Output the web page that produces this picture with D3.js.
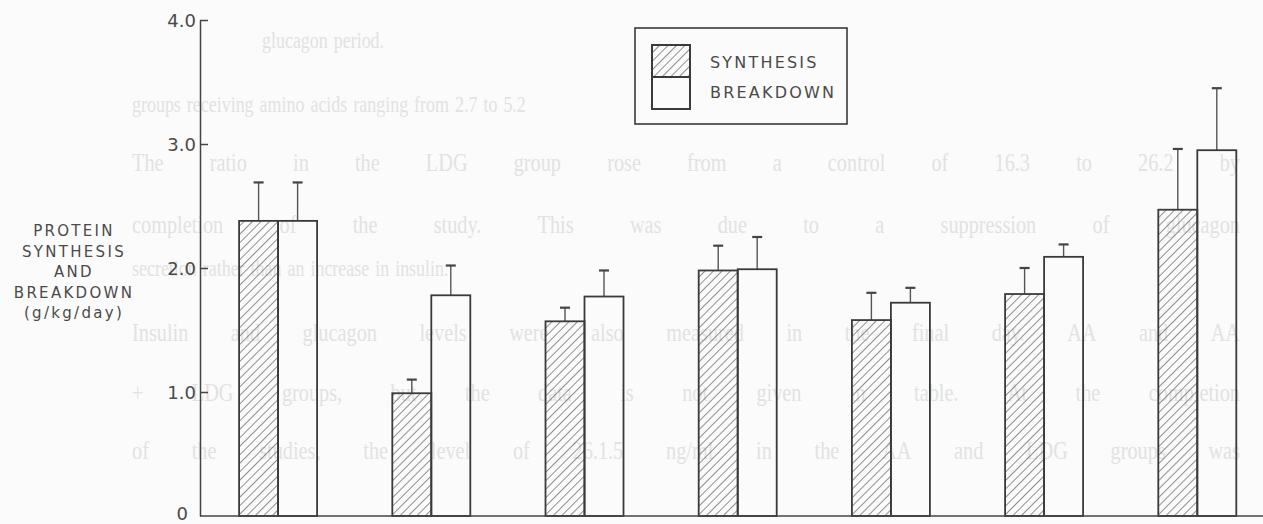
<!DOCTYPE html>
<html>
<head>
<meta charset="utf-8">
<script src="https://cdn.jsdelivr.net/npm/d3@7"></script>
<style>
  body { margin: 0; background: #fbfbfb; }
  svg { display: block; }
  .lbl { font-family: "DejaVu Sans", sans-serif; fill: #4a4a4a; }
  .ghost { font-family: "Liberation Serif", "DejaVu Serif", serif; fill: #e2e2e2; }
</style>
</head>
<body>
<div id="chart"></div>
<script>
// chart data
var groups = ["G1", "G2", "G3", "G4", "G5", "G6", "G7"];
var series = ["SYNTHESIS", "BREAKDOWN"];
var synthesis = [2.38, 0.99, 1.57, 1.98, 1.58, 1.79, 2.47];
var synthesisErr = [0.31, 0.11, 0.11, 0.20, 0.22, 0.21, 0.49];
var breakdown = [2.38, 1.78, 1.77, 1.99, 1.72, 2.09, 2.95];
var breakdownErr = [0.31, 0.24, 0.21, 0.26, 0.12, 0.10, 0.50];
var yTicks = [0, 1, 2, 3, 4];
var yTickLabels = ["0", "1.0", "2.0", "3.0", "4.0"];
var yTitle = ["PROTEIN", "SYNTHESIS", "AND", "BREAKDOWN", "(g/kg/day)"];

// faint text from the other side of the scanned page
var ghostLines = [
  "glucagon period.",
  "groups receiving amino acids ranging from 2.7 to 5.2",
  "The ratio in the LDG group rose from a control of 16.3 to 26.2 by",
  "completion of the study. This was due to a suppression of glucagon",
  "secretion rather than an increase in insulin.",
  "Insulin and glucagon levels were also measured in the final day. AA and AA",
  "+ LDG groups, but the data is not given in table. At the completion",
  "of the studies, the level of 26.1.5 ng/ml in the AA and LDG groups was"
];
var ghostX = [262, 132, 132, 132, 132, 132, 132, 132];
var ghostY = [48, 112, 171, 233, 276, 341, 401, 459];
var ghostJustify = [false, false, true, true, false, true, true, true];

var svgWidth = 1263;
var svgHeight = 524;

var svg = d3.select("#chart")
  .append("svg")
  .attr("width", svgWidth)
  .attr("height", svgHeight);

// hatch for synthesis bars
var defs = svg.append("defs");
var pat = defs.append("pattern")
  .attr("id", "hatch")
  .attr("patternUnits", "userSpaceOnUse")
  .attr("width", 6)
  .attr("height", 6)
  .attr("patternTransform", "rotate(45)");
pat.append("line")
  .attr("x1", 0).attr("y1", 0).attr("x2", 0).attr("y2", 6)
  .attr("stroke", "#555").attr("stroke-width", 1.3);

// background bleed-through text, condensed serif, justified word by word
ghostLines.forEach(function(line, i) {
  var words = line.split(" ");
  var g = svg.append("g");
  var widths = [];
  words.forEach(function(w) {
    var t = g.append("text")
      .attr("class", "ghost")
      .attr("font-size", ghostJustify[i] ? 26 : 23)
      .attr("y", ghostY[i])
      .text(w);
    var wd = t.node().getComputedTextLength() * 0.78;
    t.attr("textLength", wd).attr("lengthAdjust", "spacingAndGlyphs");
    widths.push(wd);
  });
  var total = d3.sum(widths);
  var gap = ghostJustify[i] && words.length > 1 ? (1108 - total) / (words.length - 1) : 6;
  var x = ghostX[i];
  g.selectAll("text").each(function(d, j) {
    d3.select(this).attr("x", x);
    x += widths[j] + gap;
  });
});

// scales
var yScale = d3.scaleLinear().domain([0, 4]).range([516, 20]);
var xScale = d3.scaleBand().domain(groups).range([201.5, 201.5 + 7 * 153.2]).padding(0);
var xInner = d3.scaleBand().domain(series).range([-39, 39]).padding(0);

var rows = groups.map(function(g, i) {
  return [
    { g: g, s: "SYNTHESIS", v: synthesis[i], e: synthesisErr[i] },
    { g: g, s: "BREAKDOWN", v: breakdown[i], e: breakdownErr[i] }
  ];
});

var gGroups = svg.selectAll("g.grp")
  .data(rows)
  .enter()
  .append("g")
  .attr("class", "grp")
  .attr("transform", function(d) {
    return "translate(" + (xScale(d[0].g) + xScale.bandwidth() / 2) + ",0)";
  });

// error whiskers (upper only)
gGroups.selectAll("line.err")
  .data(function(d) { return d; })
  .enter()
  .append("line")
  .attr("x1", function(d) { return xInner(d.s) + xInner.bandwidth() / 2; })
  .attr("x2", function(d) { return xInner(d.s) + xInner.bandwidth() / 2; })
  .attr("y1", function(d) { return yScale(d.v); })
  .attr("y2", function(d) { return yScale(d.v + d.e); })
  .attr("stroke", "#555")
  .attr("stroke-width", 1.4);

gGroups.selectAll("line.cap")
  .data(function(d) { return d; })
  .enter()
  .append("line")
  .attr("x1", function(d) { return xInner(d.s) + xInner.bandwidth() / 2 - 5; })
  .attr("x2", function(d) { return xInner(d.s) + xInner.bandwidth() / 2 + 5; })
  .attr("y1", function(d) { return yScale(d.v + d.e); })
  .attr("y2", function(d) { return yScale(d.v + d.e); })
  .attr("stroke", "#444")
  .attr("stroke-width", 2.2);

gGroups.selectAll("rect")
  .data(function(d) { return d; })
  .enter()
  .append("rect")
  .attr("x", function(d) { return xInner(d.s); })
  .attr("y", function(d) { return yScale(d.v); })
  .attr("width", xInner.bandwidth())
  .attr("height", function(d) { return yScale(0) - yScale(d.v); })
  .attr("fill", function(d) { return d.s === "SYNTHESIS" ? "url(#hatch)" : "none"; })
  .attr("stroke", "#3a3a3a")
  .attr("stroke-width", 1.8);

// y axis
var yAxis = d3.axisLeft(yScale)
  .tickValues(yTicks)
  .tickFormat(function(d, i) { return yTickLabels[i]; })
  .tickSizeInner(-8)
  .tickSizeOuter(0)
  .tickPadding(16);

var gy = svg.append("g")
  .attr("transform", "translate(200,0)")
  .call(yAxis);
gy.select(".domain").attr("stroke", "#444").attr("stroke-width", 1.5);
gy.selectAll(".tick line").attr("stroke", "#444").attr("stroke-width", 1.5)
  .filter(function(d) { return d === 0; }).remove();
gy.selectAll(".tick text")
  .attr("class", "lbl")
  .attr("font-size", 18)
  .attr("fill", "#4a4a4a")
  .attr("x", function(d) { return d === 0 ? -12 : -4; })
  .attr("dy", function(d) { return d === 0 ? "0.2em" : "0.36em"; });

// x baseline
svg.append("line")
  .attr("x1", 200).attr("x2", svgWidth)
  .attr("y1", yScale(0)).attr("y2", yScale(0))
  .attr("stroke", "#444").attr("stroke-width", 1.6);

// y title
svg.append("text")
  .attr("class", "lbl")
  .attr("text-anchor", "middle")
  .attr("font-size", 15)
  .attr("letter-spacing", 2.3)
  .selectAll("tspan")
  .data(yTitle)
  .enter()
  .append("tspan")
  .attr("x", 74)
  .attr("y", function(d, i) { return 236 + i * 20.5; })
  .text(function(d) { return d; });

// legend
var lg = svg.append("g");
lg.append("rect")
  .attr("x", 635).attr("y", 28).attr("width", 212).attr("height", 96)
  .attr("fill", "none").attr("stroke", "#3a3a3a").attr("stroke-width", 1.6);
lg.append("rect")
  .attr("x", 652).attr("y", 45).attr("width", 38).attr("height", 32)
  .attr("fill", "url(#hatch)").attr("stroke", "#3a3a3a").attr("stroke-width", 2);
lg.append("rect")
  .attr("x", 652).attr("y", 77).attr("width", 38).attr("height", 32)
  .attr("fill", "none").attr("stroke", "#3a3a3a").attr("stroke-width", 2);
lg.selectAll("text")
  .data(series)
  .enter()
  .append("text")
  .attr("class", "lbl")
  .attr("x", 710)
  .attr("y", function(d, i) { return 68 + i * 30; })
  .attr("font-size", 16)
  .attr("letter-spacing", 2.2)
  .text(function(d) { return d; });
</script>
</body>
</html>
